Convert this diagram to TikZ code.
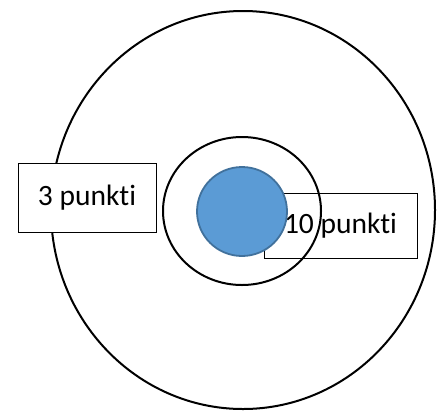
\documentclass[tikz,border=0pt]{standalone}
\usepackage{fontspec}
\setmainfont[RawFeature=-liga]{Carlito}
\definecolor{fillblue}{HTML}{5B9BD5}
\definecolor{edgeblue}{HTML}{41719C}
\begin{document}
\begin{tikzpicture}[x=1pt,y=-1pt,
  ring/.style={draw=black,line width=2pt},
  labelbox/.style={draw=black,fill=white,line width=1pt,inner sep=0pt,
    font=\fontsize{29.5}{34}\selectfont},
  bullseye/.style={draw=edgeblue,fill=fillblue,line width=1.8pt}]
\useasboundingbox (0,0) rectangle (443,410);
\draw[ring] (243,210) ellipse [x radius=192, y radius=199];
\node[labelbox,minimum width=138pt,minimum height=69pt] (b1) at (87,197.5) {3 punkti};
\node[labelbox,fill=none,minimum width=153pt,minimum height=65pt] (b2) at (340.5,225.5) {10 punkti};
\draw[ring] (242,211) ellipse [x radius=79, y radius=74];
\draw[bullseye] (242,211.5) ellipse [x radius=45, y radius=44.5];
\end{tikzpicture}
\end{document}
